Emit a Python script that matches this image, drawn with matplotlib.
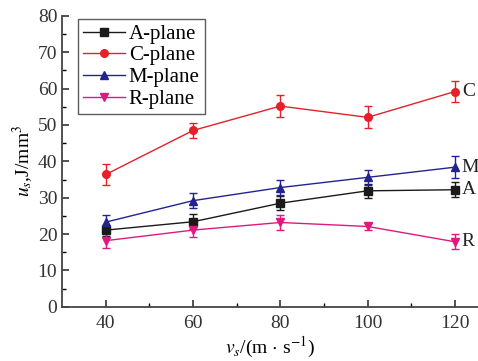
import numpy as np
import matplotlib.pyplot as plt
from matplotlib.lines import Line2D

plt.rcParams['font.family'] = ['Liberation Serif', 'DejaVu Serif']
plt.rcParams['mathtext.fontset'] = 'stix'

# Data
speed = [40, 60, 80, 100, 120]
a_plane = [21.1, 23.4, 28.5, 31.9, 32.2]
a_err = [1.5, 2.0, 2.0, 2.0, 2.0]
c_plane = [36.4, 48.5, 55.2, 52.1, 59.2]
c_err = [3.0, 2.0, 3.0, 3.0, 3.0]
m_plane = [23.3, 29.2, 32.8, 35.6, 38.4]
m_err = [2.0, 2.0, 2.0, 2.0, 3.0]
r_plane = [18.2, 21.1, 23.2, 22.1, 17.9]
r_err = [2.0, 2.0, 2.0, 1.0, 2.0]

series = [
    ("A-plane", "A", a_plane, a_err, "#1a1a1a", "s"),
    ("C-plane", "C", c_plane, c_err, "#e5202a", "o"),
    ("M-plane", "M", m_plane, m_err, "#23238f", "^"),
    ("R-plane", "R", r_plane, r_err, "#e0187f", "v"),
]

fig = plt.figure(figsize=(4.78, 3.61), dpi=100)
ax = fig.add_axes([0.130, 0.150, 0.870, 0.806])

handles = []
for name, tag, vals, errs, col, mk in series:
    ax.errorbar(speed, vals, yerr=errs, color=col, marker=mk, markersize=5.5,
                linewidth=1.0, elinewidth=1.0, capsize=3, capthick=1.0)
    ax.text(speed[-1] + 1.6, vals[-1], tag, fontsize=14, va='center', ha='left',
            color='#222222')
    handles.append(Line2D([], [], color=col, marker=mk, markersize=5.5,
                          linewidth=1.0, label=name))

ax.set_xlim(30, 125.3)
ax.set_ylim(0, 80)
ax.set_xticks([40, 60, 80, 100, 120])
ax.set_xticks([50, 70, 90, 110], minor=True)
ax.set_yticks(range(0, 81, 10))
ax.set_yticks(range(5, 80, 10), minor=True)
ax.tick_params(labelsize=14, direction='in', length=5, width=1.2, colors='#333333')
ax.tick_params(which='minor', direction='in', length=3, width=1.0)
ax.tick_params(axis='x', pad=6)
for side in ['top', 'right']:
    ax.spines[side].set_visible(False)
for side in ['left', 'bottom']:
    ax.spines[side].set_linewidth(1.3)
    ax.spines[side].set_color('#444444')

ax.set_xlabel(r'$v_s$/(m $\cdot$ s$^{-1}$)', fontsize=14, labelpad=2)
ax.set_ylabel(r'$u_s$,J/mm$^3$', fontsize=14, labelpad=2)

leg = ax.legend(handles=handles, loc='upper left', bbox_to_anchor=(0.03, 1.0),
                fontsize=15, frameon=True, fancybox=False, edgecolor='#333333',
                handlelength=2.0, handletextpad=0.2, labelspacing=0.1,
                borderpad=0.25, borderaxespad=0.15)
leg.get_frame().set_linewidth(1.0)

fig.savefig('out.png', dpi=100)
